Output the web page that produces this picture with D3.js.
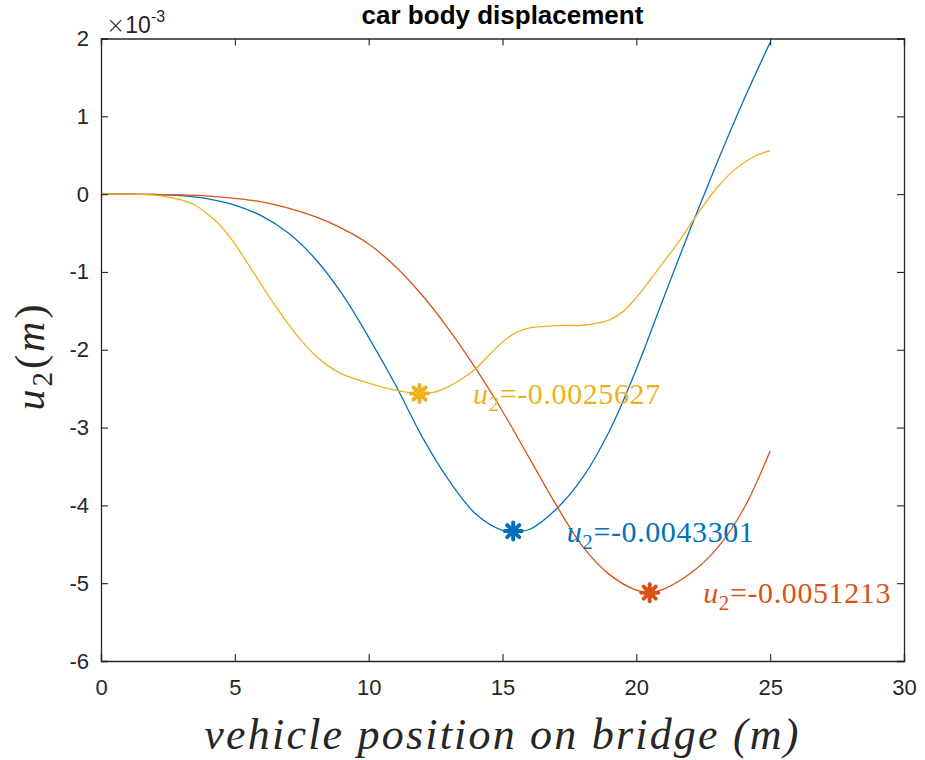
<!DOCTYPE html>
<html>
<head>
<meta charset="utf-8">
<script src="https://cdn.jsdelivr.net/npm/d3@7"></script>
<style>
  html, body { margin: 0; padding: 0; background: #ffffff; }
  svg { display: block; }
</style>
</head>
<body>
<svg id="chart" width="925" height="760"></svg>
<script>
// Car body displacement u2 (m) against vehicle position on the bridge (m)
const xTicks = [0, 5, 10, 15, 20, 25, 30];
const yTicks = [-0.006, -0.005, -0.004, -0.003, -0.002, -0.001, 0, 0.001, 0.002];
const seriesColors = ["#0072BD", "#D95319", "#EDB120"];

const blueX = [0, 1, 2, 3, 4, 5, 6, 7, 8, 9, 10, 11, 12, 13, 14, 15, 15.4, 16, 17, 18, 19, 20, 21, 22, 23, 24, 25];
const blueY = [0, 0, -0.000005, -0.00002, -0.00006, -0.00014, -0.00028, -0.0005, -0.00083, -0.00128, -0.00184, -0.00245, -0.00312, -0.00368, -0.00411, -0.00432, -0.0043301, -0.00431, -0.00405, -0.00364, -0.00304, -0.00225, -0.00135, -0.00046, 0.00039, 0.0012, 0.00195];

const redX = [0, 1, 2, 3, 4, 5, 6, 7, 8, 9, 10, 11, 12, 13, 14, 15, 16, 17, 18, 19, 20, 20.5, 21, 22, 23, 24, 25];
const redY = [0, 0, -0.000003, -0.00001, -0.000025, -0.000055, -0.0001, -0.00018, -0.00029, -0.00044, -0.00064, -0.00093, -0.0013, -0.00174, -0.00224, -0.00279, -0.00339, -0.00399, -0.00453, -0.00489, -0.00509, -0.0051213, -0.00508, -0.00488, -0.00456, -0.00405, -0.0033];

const yellowX = [0, 1, 1.5, 2, 2.5, 3, 3.5, 4, 4.5, 5, 5.5, 6, 6.5, 7, 7.5, 8, 8.5, 9, 10, 11, 11.9, 12.5, 13, 13.5, 14, 14.5, 15, 15.5, 16, 17, 18, 18.5, 19, 19.5, 20, 20.5, 21, 21.5, 22, 22.5, 23, 23.5, 24, 24.5, 25];
const yellowY = [0, 0, -0.000002, -0.000012, -0.000038, -0.000075, -0.00014, -0.00026, -0.00042, -0.00064, -0.0009, -0.00117, -0.00143, -0.00167, -0.00189, -0.00207, -0.00221, -0.00231, -0.00243, -0.00252, -0.0025627, -0.00254, -0.00247, -0.00237, -0.00224, -0.00207, -0.0019, -0.00178, -0.00172, -0.00169, -0.001685, -0.00166, -0.001615, -0.00151, -0.00133, -0.00111, -0.00088, -0.000655, -0.0004, -0.00015, 0.000075, 0.00026, 0.0004, 0.0005, 0.00056];

// Minimum of each series and its annotation
const minX = [15.4, 20.5, 11.9];
const minY = [-0.0043301, -0.0051213, -0.0025627];

const series = [
  { x: blueX, y: blueY },
  { x: redX, y: redY },
  { x: yellowX, y: yellowY }
];

const svg = d3.select("#chart");
const plotLeft = 101, plotRight = 904, plotTop = 38.5, plotBottom = 661;
const axisColor = "#262626";

const x = d3.scaleLinear().domain([0, 30]).range([plotLeft, plotRight]);
const y = d3.scaleLinear().domain([-0.006, 0.002]).range([plotBottom, plotTop]);

const sansFont = "'Liberation Sans', Arial, Helvetica, sans-serif";
const serifFont = "'Liberation Serif', 'Times New Roman', serif";

// Curves
const line = d3.line().x(d => x(d[0])).y(d => y(d[1])).curve(d3.curveCatmullRom.alpha(0.5));
series.forEach((s, i) => {
  svg.append("path")
    .datum(s.x.map((v, k) => [v, s.y[k]]))
    .attr("d", line)
    .attr("fill", "none")
    .attr("stroke", seriesColors[i])
    .attr("stroke-width", 1.3);
});

// Asterisk markers at the minima
const arm = 8.5;
minX.forEach((mx, i) => {
  const g = svg.append("g").attr("transform", `translate(${x(mx)},${y(minY[i])})`);
  [0, 45, 90, 135].forEach(a => {
    const r = a * Math.PI / 180;
    g.append("line")
      .attr("x1", -arm * Math.cos(r)).attr("y1", -arm * Math.sin(r))
      .attr("x2", arm * Math.cos(r)).attr("y2", arm * Math.sin(r))
      .attr("stroke", seriesColors[i])
      .attr("stroke-width", 4)
      .attr("stroke-linecap", "round");
  });
  g.append("circle").attr("r", 5.5).attr("fill", seriesColors[i]);
});

// Value annotations: u2 = value, placed 2 m to the right of each minimum
minX.forEach((mx, i) => {
  const t = svg.append("text")
    .attr("x", x(mx + 2))
    .attr("y", y(minY[i]))
    .attr("dy", "0.35em")
    .attr("font-family", serifFont)
    .attr("font-size", 30)
    .attr("letter-spacing", 0.6)
    .attr("fill", seriesColors[i]);
  t.append("tspan").attr("font-style", "italic").text("u");
  t.append("tspan").attr("font-size", 21).attr("dy", 7).text("2");
  t.append("tspan").attr("dy", -7).text("=" + String(minY[i]));
});

// Axes box with inward ticks on all four sides
const xAxisB = d3.axisBottom(x).tickValues(xTicks).tickSize(-7).tickPadding(14).tickFormat(d => String(d));
const xAxisT = d3.axisTop(x).tickValues(xTicks).tickSize(-7).tickFormat("");
const yAxisL = d3.axisLeft(y).tickValues(yTicks).tickSize(-7).tickPadding(12).tickFormat(d => String(Math.round(d * 1000)));
const yAxisR = d3.axisRight(y).tickValues(yTicks).tickSize(-7).tickFormat("");

function styleAxis(g) {
  g.selectAll(".domain").attr("stroke", axisColor).attr("stroke-width", 1.3);
  g.selectAll(".tick line").attr("stroke", axisColor).attr("stroke-width", 1.1);
  g.selectAll(".tick text").attr("fill", axisColor).attr("font-family", sansFont).attr("font-size", 22);
}

svg.append("g").attr("transform", `translate(0,${plotBottom})`).call(xAxisB).call(styleAxis)
  .call(g => g.selectAll(".tick text").attr("dy", "0.9em"));
svg.append("g").attr("transform", `translate(0,${plotTop})`).call(xAxisT).call(styleAxis);
svg.append("g").attr("transform", `translate(${plotLeft},0)`).call(yAxisL).call(styleAxis);
svg.append("g").attr("transform", `translate(${plotRight},0)`).call(yAxisR).call(styleAxis);

// Exponent note above the y axis
const expo = svg.append("text")
  .attr("x", plotLeft + 5).attr("y", 33)
  .attr("font-family", sansFont).attr("font-size", 23).attr("fill", axisColor);
expo.append("tspan").attr("font-family", "'DejaVu Sans', sans-serif").attr("font-weight", 300).text("\u00D7");
expo.append("tspan").text("10");
expo.append("tspan").attr("font-size", 16).attr("dy", -11).text("-3");

// Title
svg.append("text")
  .attr("x", (plotLeft + plotRight) / 2).attr("y", 24)
  .attr("text-anchor", "middle")
  .attr("font-family", sansFont).attr("font-weight", "bold").attr("font-size", 26)
  .attr("fill", "#000000")
  .text("car body displacement");

// Axis titles
svg.append("text")
  .attr("x", (plotLeft + plotRight) / 2).attr("y", 749)
  .attr("text-anchor", "middle")
  .attr("font-family", serifFont).attr("font-style", "italic").attr("font-size", 44)
  .attr("letter-spacing", 2.2)
  .attr("fill", axisColor)
  .text("vehicle position on bridge (m)");

const yl = svg.append("text")
  .attr("transform", `translate(44,356) rotate(-90)`)
  .attr("text-anchor", "middle")
  .attr("font-family", serifFont).attr("font-size", 42)
  .attr("letter-spacing", 3)
  .attr("fill", axisColor);
yl.append("tspan").attr("font-style", "italic").text("u");
yl.append("tspan").attr("font-size", 29).attr("dy", 8).text("2");
yl.append("tspan").attr("dy", -8).text("(");
yl.append("tspan").attr("font-style", "italic").text("m");
yl.append("tspan").text(")");
</script>
</body>
</html>
